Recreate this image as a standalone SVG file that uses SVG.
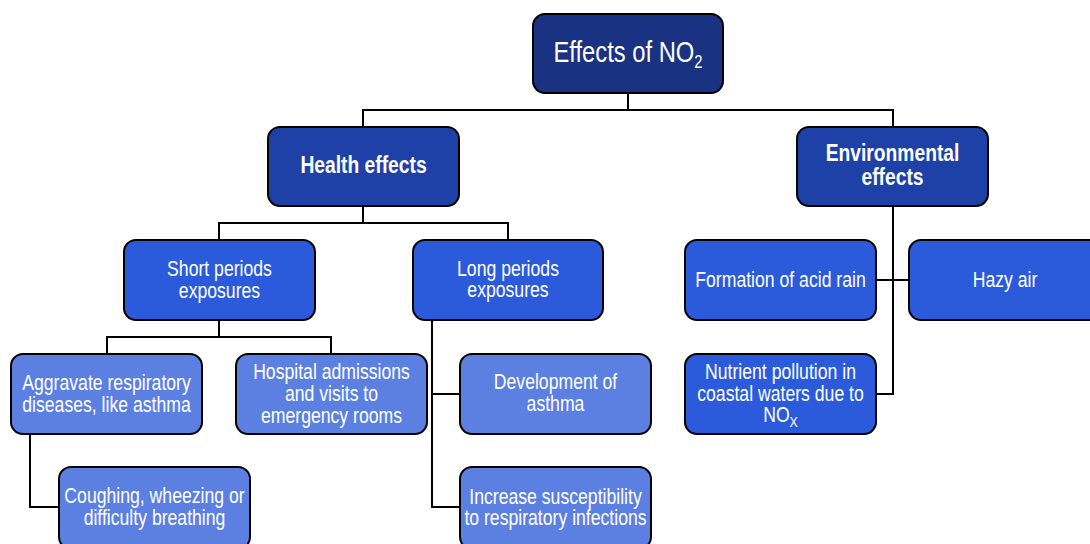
<svg xmlns="http://www.w3.org/2000/svg" width="1090" height="544" viewBox="0 0 1090 544">
<style>
.box{stroke:#000;stroke-width:2}
.l0{fill:#1a3282}
.l1{fill:#1e41a8}
.l2{fill:#2b5bdb}
.l3{fill:#5b80e2}
text{font-family:"Liberation Sans","Arial Narrow",Arial,sans-serif;fill:#fff;text-anchor:middle}
.t0{font-size:29px}
.t1{font-size:23.5px;font-weight:bold}
.t2{font-size:21.5px}
.conn{fill:none;stroke:#000;stroke-width:2}
</style>
<rect width="1090" height="544" fill="#fff"/>
<g id="connectors" class="conn">
<path d="M628 93V110M363 127V110H893V127"/>
<path d="M363 206V223M219 240V223H508V240"/>
<path d="M219 320V337M107 354V337H331V354"/>
<path d="M30 434V507H59"/>
<path d="M432 320V507H460M432 394H460"/>
<path d="M893 206V394H876M876 280H909"/>
</g>
<g id="root"><rect class="box l0" x="533" y="14" width="190" height="79" rx="12"/><g transform="translate(628 0) scale(0.82 1)"><text class="t0" x="0" y="62">Effects of NO<tspan font-size="18" dy="6">2</tspan></text></g></g>
<g id="health"><rect class="box l1" x="268" y="127" width="191" height="79" rx="12"/><g transform="translate(363.5 0) scale(0.82 1)"><text class="t1" x="0" y="173">Health effects</text></g></g>
<g id="environmental"><rect class="box l1" x="797" y="127" width="191" height="79" rx="12"/><g transform="translate(892.5 0) scale(0.82 1)"><text class="t1" x="0" y="161.5">Environmental</text><text class="t1" x="0" y="185.5">effects</text></g></g>
<g id="short"><rect class="box l2" x="124" y="240" width="191" height="80" rx="12"/><g transform="translate(219.5 0) scale(0.82 1)"><text class="t2" x="0" y="276">Short periods</text><text class="t2" x="0" y="298">exposures</text></g></g>
<g id="long"><rect class="box l2" x="413" y="240" width="190" height="80" rx="12"/><g transform="translate(508 0) scale(0.82 1)"><text class="t2" x="0" y="276">Long periods</text><text class="t2" x="0" y="297.5">exposures</text></g></g>
<g id="aggravate"><rect class="box l3" x="11" y="354" width="191" height="80" rx="12"/><g transform="translate(106.5 0) scale(0.82 1)"><text class="t2" x="0" y="390">Aggravate respiratory</text><text class="t2" x="0" y="412">diseases, like asthma</text></g></g>
<g id="hospital"><rect class="box l3" x="236" y="354" width="191" height="80" rx="12"/><g transform="translate(331.5 0) scale(0.82 1)"><text class="t2" x="0" y="379">Hospital admissions</text><text class="t2" x="0" y="401">and visits to</text><text class="t2" x="0" y="423">emergency rooms</text></g></g>
<g id="coughing"><rect class="box l3" x="59" y="467" width="191" height="82" rx="12"/><g transform="translate(154.5 0) scale(0.82 1)"><text class="t2" x="0" y="503.5">Coughing, wheezing or</text><text class="t2" x="0" y="525">difficulty breathing</text></g></g>
<g id="development"><rect class="box l3" x="460" y="354" width="191" height="80" rx="12"/><g transform="translate(555.5 0) scale(0.82 1)"><text class="t2" x="0" y="389.5">Development of</text><text class="t2" x="0" y="411.5">asthma</text></g></g>
<g id="increase"><rect class="box l3" x="460" y="467" width="191" height="82" rx="12"/><g transform="translate(555.5 0) scale(0.82 1)"><text class="t2" x="0" y="504">Increase susceptibility</text><text class="t2" x="0" y="525.5">to respiratory infections</text></g></g>
<g id="formation"><rect class="box l2" x="685" y="240" width="191" height="80" rx="12"/><g transform="translate(780.5 0) scale(0.82 1)"><text class="t2" x="0" y="287">Formation of acid rain</text></g></g>
<g id="hazy"><rect class="box l2" x="909" y="240" width="195" height="80" rx="12"/><g transform="translate(1005 0) scale(0.82 1)"><text class="t2" x="0" y="287">Hazy air</text></g></g>
<g id="nutrient"><rect class="box l2" x="685" y="354" width="191" height="80" rx="12"/><g transform="translate(780.5 0) scale(0.82 1)"><text class="t2" x="0" y="379">Nutrient pollution in</text><text class="t2" x="0" y="401">coastal waters due to</text><text class="t2" x="0" y="422">NO<tspan font-size="15" dy="5">X</tspan></text></g></g>
</svg>
